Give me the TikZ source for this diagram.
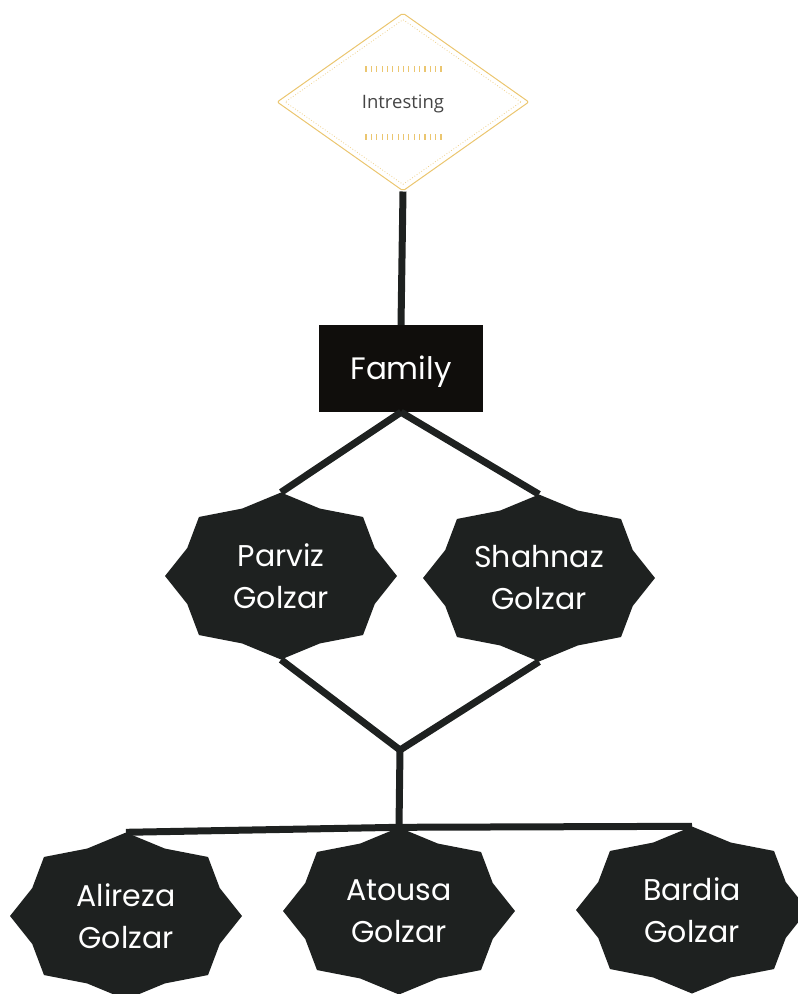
\documentclass[tikz,border=0pt]{standalone}
\usepackage{fontspec}
\setmainfont{Poppins}
\newfontfamily\labelfont{Open Sans}
\usetikzlibrary{shapes.geometric}
\definecolor{ink}{HTML}{1E2120}
\definecolor{boxblack}{HTML}{100E0C}
\definecolor{gold}{HTML}{EBC670}
\definecolor{softgray}{HTML}{444444}
\begin{document}
\begin{tikzpicture}[x=1pt,y=-1pt,
	link/.style={draw=ink,line width=7pt},
	person/.style={rectangle,minimum width=232pt,minimum height=167pt,inner sep=0pt,
		text=white,align=center,font=\fontsize{30}{42}\selectfont},
	idea/.style={diamond,draw=gold,line width=1pt,rounded corners=2pt,inner sep=0pt,
		minimum width=252pt,minimum height=178pt,text=softgray,font=\labelfont\fontsize{18.5}{22}\selectfont},
	idea inner/.style={diamond,draw=gold!80,dotted,line width=0.8pt,inner sep=0pt,
		minimum width=236pt,minimum height=165pt},
	tick/.style={draw=gold,line width=1.1pt},
	group/.style={rectangle,fill=boxblack,minimum width=164pt,minimum height=87pt,
		text=white,font=\fontsize{31}{36}\selectfont}]
	\useasboundingbox (0,0) rectangle (798,994);
	% idea at the top
	\node[idea] (intresting) at (403,102) {};
	\node[idea inner] (intresting-inner) at (intresting) {};
	\node[text=softgray,font=\labelfont\fontsize{18.5}{22}\selectfont] (intresting-text) at (403,104) {Intresting};
	\foreach \i in {0,...,14} {
		\draw[tick] (366+\i*5.36,66) -- ++(0,6);
		\draw[tick] (366+\i*5.36,134) -- ++(0,6);
	}
	% family box
	\node[group] (family) at (401,368.5) {};
	\node[text=white,font=\fontsize{31}{36}\selectfont] (family-text) at (401,371.5) {Family};
	% people
	\foreach \nm/\cx/\cy/\first in {parviz/281/576/Parviz, shahnaz/539/578/Shahnaz,
		alireza/126/916/Alireza, atousa/399/911/Atousa, bardia/692/910/Bardia} {
		\fill[ink] ([shift={(\cx,\cy)}]0:116 and 83.5)
			\foreach \k in {0,...,7} {
				-- ([shift={(\cx,\cy)}]\k*45+22.5:101.5 and 73)
				-- ([shift={(\cx,\cy)}]\k*45+45:116 and 83.5)
			} -- cycle;
		\node[person] (\nm) at (\cx,\cy) {\first\\Golzar};
	}
	\coordinate (join) at (400,750);
	% connectors
	\draw[link] (intresting.south) -- (family.north);
	\draw[link] (family.south) -- (parviz.north);
	\draw[link] (family.south) -- (shahnaz.north);
	\draw[link] (parviz.south) -- (join) -- (shahnaz.south);
	\draw[link] (join) -- (atousa.north);
	\draw[link] (alireza.north) -- (atousa.north) -- (bardia.north);
\end{tikzpicture}
\end{document}
